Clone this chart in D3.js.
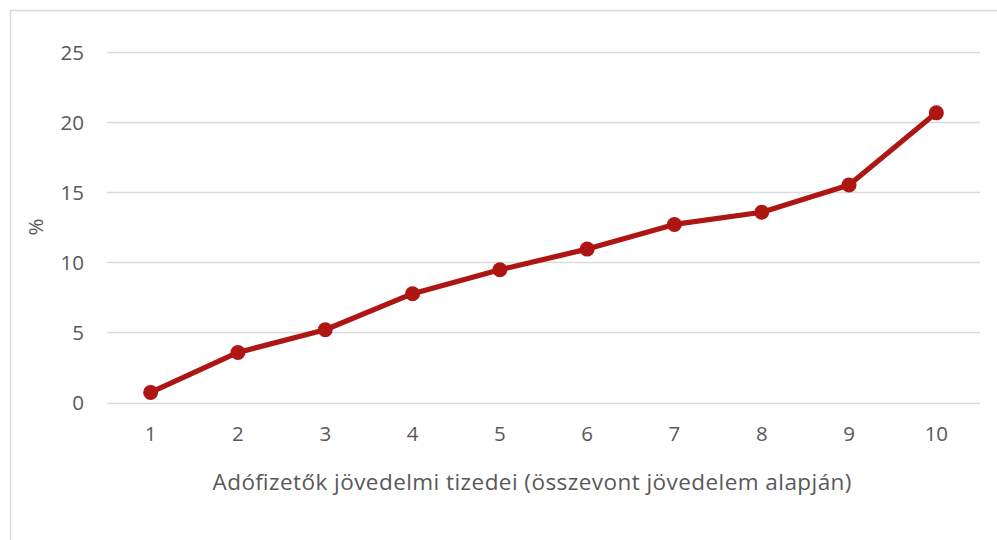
<!DOCTYPE html>
<html><head><meta charset="utf-8">
<script src="https://cdn.jsdelivr.net/npm/d3@7"></script>
<style>html,body{margin:0;padding:0;background:#fff;overflow:hidden}</style>
</head><body>
<svg id="chart" width="997" height="540"></svg>
<script>
const categories = ["1","2","3","4","5","6","7","8","9","10"];
const values = [0.72, 3.57, 5.19, 7.76, 9.47, 10.94, 12.70, 13.57, 15.52, 20.66];
const yTicks = [0, 5, 10, 15, 20, 25];
const xTitle = "Adófizetők jövedelmi tizedei (összevont jövedelem alapján)";
const yTitle = "%";

const font = "'Open Sans', sans-serif";
const textColor = "#595959";
const fs = 20.5;
const svg = d3.select("#chart");

svg.append("rect").attr("x", 10.5).attr("y", 10.5).attr("width", 1100).attr("height", 1000)
  .attr("fill", "none").attr("stroke", "#d9d9d9").attr("stroke-width", 1.5);

const x = d3.scaleBand().domain(categories).range([107, 980]).padding(0);
const y = d3.scaleLinear().domain([0, 25]).range([402.5, 52]);

// gridlines
svg.append("g").selectAll("line").data(yTicks).join("line")
  .attr("x1", 107).attr("x2", 980)
  .attr("y1", d => Math.round(y(d)) + 0.5).attr("y2", d => Math.round(y(d)) + 0.5)
  .attr("stroke", "#d9d9d9").attr("stroke-width", 1.3);

// y axis labels
const yAxis = d3.axisLeft(y).tickValues(yTicks).tickSize(0).tickPadding(0);
const gy = svg.append("g").attr("transform", "translate(84,0)").call(yAxis);
gy.select(".domain").remove();
gy.selectAll("text").attr("font-family", font).attr("font-size", fs).attr("fill", textColor).attr("dy", "0.36em");

// x axis labels
const xAxis = d3.axisBottom(x).tickSize(0).tickPadding(0);
const gx = svg.append("g").attr("transform", "translate(0,441)").call(xAxis);
gx.select(".domain").remove();
gx.selectAll("text").attr("font-family", font).attr("font-size", fs).attr("fill", textColor).attr("dy", 0);

// titles
svg.append("text").attr("x", 532).attr("y", 490).attr("text-anchor", "middle")
  .attr("font-family", font).attr("font-size", 22.5).attr("fill", textColor)
  .attr("textLength", 639).attr("lengthAdjust", "spacing").text(xTitle);
svg.append("text").attr("transform", "translate(43,227) rotate(-90)").attr("text-anchor", "middle")
  .attr("font-family", font).attr("font-size", fs).attr("fill", textColor).text(yTitle);

const color = "#ae1613";
const line = d3.line().x((d, i) => x(categories[i]) + x.bandwidth() / 2).y(d => y(d));
svg.append("path").datum(values).attr("d", line).attr("fill", "none")
  .attr("stroke", color).attr("stroke-width", 5.2).attr("stroke-linejoin", "round");
svg.append("g").selectAll("circle").data(values).join("circle")
  .attr("cx", (d, i) => x(categories[i]) + x.bandwidth() / 2).attr("cy", d => y(d))
  .attr("r", 7.5).attr("fill", color);
</script>
</body></html>
